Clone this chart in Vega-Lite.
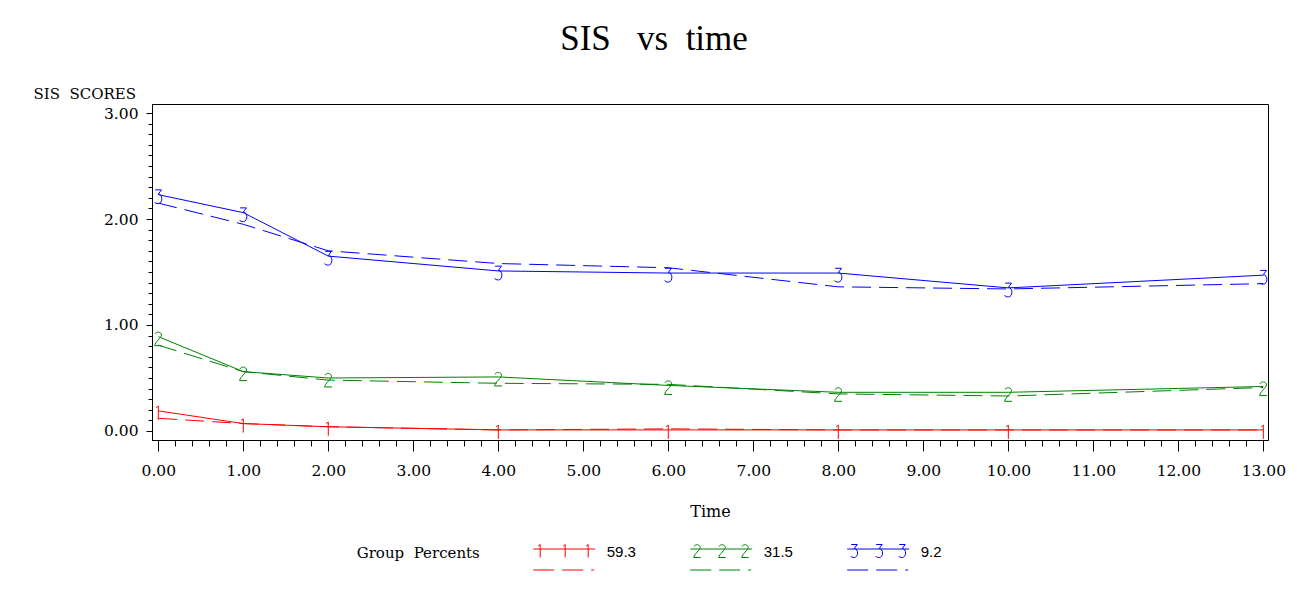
{
  "$schema": "https://vega.github.io/schema/vega-lite/v6.json",
  "width": 1116,
  "height": 336,
  "autosize": {"type": "none"},
  "padding": {"left": 152, "top": 104, "right": 35, "bottom": 149},
  "background": "white",
  "title": {"text": "SIS\u00a0\u00a0\u00a0vs\u00a0\u00a0time", "font": "Liberation Serif", "fontSize": 35, "fontWeight": "normal", "color": "black", "anchor": "middle", "frame": "group", "dx": -56, "offset": 29},
  "data": {"values": [
    {"t": 0, "g": "59.3", "obs": 0.19, "pred": 0.12},
    {"t": 1, "g": "59.3", "obs": 0.07, "pred": 0.07},
    {"t": 2, "g": "59.3", "obs": 0.04, "pred": 0.04},
    {"t": 4, "g": "59.3", "obs": 0.01, "pred": 0.01},
    {"t": 6, "g": "59.3", "obs": 0.01, "pred": 0.02},
    {"t": 8, "g": "59.3", "obs": 0.01, "pred": 0.01},
    {"t": 10, "g": "59.3", "obs": 0.01, "pred": 0.01},
    {"t": 13, "g": "59.3", "obs": 0.01, "pred": 0.01},
    {"t": 0, "g": "31.5", "obs": 0.89, "pred": 0.81},
    {"t": 1, "g": "31.5", "obs": 0.56, "pred": 0.56},
    {"t": 2, "g": "31.5", "obs": 0.50, "pred": 0.48},
    {"t": 4, "g": "31.5", "obs": 0.51, "pred": 0.45},
    {"t": 6, "g": "31.5", "obs": 0.43, "pred": 0.44},
    {"t": 8, "g": "31.5", "obs": 0.365, "pred": 0.35},
    {"t": 10, "g": "31.5", "obs": 0.365, "pred": 0.33},
    {"t": 13, "g": "31.5", "obs": 0.42, "pred": 0.41},
    {"t": 0, "g": "9.2", "obs": 2.23, "pred": 2.15},
    {"t": 1, "g": "9.2", "obs": 2.06, "pred": 1.95},
    {"t": 2, "g": "9.2", "obs": 1.65, "pred": 1.70},
    {"t": 4, "g": "9.2", "obs": 1.51, "pred": 1.58},
    {"t": 6, "g": "9.2", "obs": 1.49, "pred": 1.54},
    {"t": 8, "g": "9.2", "obs": 1.49, "pred": 1.36},
    {"t": 10, "g": "9.2", "obs": 1.35, "pred": 1.34},
    {"t": 13, "g": "9.2", "obs": 1.47, "pred": 1.39}
  ]},
  "encoding": {
    "x": {"field": "t", "type": "quantitative",
      "scale": {"domain": [-0.074, 13.055], "nice": false, "zero": false},
      "axis": {
        "title": "Time",
        "values": [0,0.2,0.4,0.6,0.8,1,1.2,1.4,1.6,1.8,2,2.2,2.4,2.6,2.8,3,3.2,3.4,3.6,3.8,4,4.2,4.4,4.6,4.8,5,5.2,5.4,5.6,5.8,6,6.2,6.4,6.6,6.8,7,7.2,7.4,7.6,7.8,8,8.2,8.4,8.6,8.8,9,9.2,9.4,9.6,9.8,10,10.2,10.4,10.6,10.8,11,11.2,11.4,11.6,11.8,12,12.2,12.4,12.6,12.8,13],
        "tickCount": 200,
        "labelExpr": "abs(datum.value - round(datum.value)) < 0.001 ? format(datum.value, '.2f') : ''",
        "tickSize": {"condition": {"test": "abs(datum.value - round(datum.value)) < 0.001", "value": 11}, "value": 6},
        "labelPadding": 12,
        "labelFont": "DejaVu Serif", "labelFontSize": 15.5,
        "labelOverlap": false, "labelBound": false, "labelFlush": false,
        "titleFont": "DejaVu Serif", "titleFontSize": 16, "titleFontWeight": "normal",
        "titlePadding": 25
      }
    },
    "y": {"field": "obs", "type": "quantitative",
      "scale": {"domain": [-0.085, 3.085], "nice": false, "zero": false},
      "axis": {
        "title": "SIS\u00a0\u00a0SCORES",
        "values": [0,0.1,0.2,0.3,0.4,0.5,0.6,0.7,0.8,0.9,1,1.1,1.2,1.3,1.4,1.5,1.6,1.7,1.8,1.9,2,2.1,2.2,2.3,2.4,2.5,2.6,2.7,2.8,2.9,3],
        "tickCount": 200,
        "labelExpr": "abs(datum.value - round(datum.value)) < 0.001 ? format(datum.value, '.2f') : ''",
        "tickSize": {"condition": {"test": "abs(datum.value - round(datum.value)) < 0.001", "value": 6}, "value": 4},
        "labelPadding": 8,
        "labelFont": "DejaVu Serif", "labelFontSize": 15.5,
        "labelOverlap": false, "labelBound": false, "labelFlush": false,
        "titleFont": "DejaVu Serif", "titleFontSize": 15, "titleFontWeight": "normal",
        "titleAngle": 0, "titleAlign": "left", "titleBaseline": "alphabetic",
        "titleX": -119, "titleY": -6
      }
    }
  },
  "layer": [
    {
      "mark": {"type": "line", "strokeWidth": 1},
      "encoding": {
        "stroke": {"field": "g", "type": "nominal",
          "scale": {"domain": ["9.2", "31.5", "59.3"], "range": ["#0000FF", "#008000", "#FF0000"]},
          "legend": null}
      }
    },
    {
      "mark": {"type": "line", "strokeWidth": 1, "strokeDash": [19, 8]},
      "encoding": {
        "y": {"field": "pred", "type": "quantitative"},
        "stroke": {"field": "g", "type": "nominal", "legend": null}
      }
    },
    {
      "transform": [{"filter": "datum.g === '59.3'"}],
      "mark": {"type": "point", "filled": false, "strokeWidth": 1, "size": 450, "opacity": 1, "shape": "M-0.2,-0.3L0,-0.45L0,0.85"},
      "encoding": {"stroke": {"field": "g", "type": "nominal", "legend": null}}
    },
    {
      "transform": [{"filter": "datum.g === '31.5'"}],
      "mark": {"type": "point", "filled": false, "strokeWidth": 1, "size": 450, "opacity": 1, "shape": "M-0.3,-0.25C-0.25,-0.5 0.3,-0.5 0.3,-0.15C0.3,0.1 -0.3,0.5 -0.35,0.85L0.35,0.85"},
      "encoding": {"stroke": {"field": "g", "type": "nominal", "legend": null}}
    },
    {
      "transform": [{"filter": "datum.g === '9.2'"}],
      "mark": {"type": "point", "filled": false, "strokeWidth": 1, "size": 450, "opacity": 1, "shape": "M-0.3,-0.45L0.3,-0.45L0,-0.05C0.45,-0.05 0.45,0.85 0,0.85C-0.15,0.85 -0.3,0.8 -0.35,0.7"},
      "encoding": {"stroke": {"field": "g", "type": "nominal", "legend": null}}
    },
    {
      "mark": {"type": "point", "filled": false, "strokeWidth": 1, "opacity": 0},
      "encoding": {
        "color": {"field": "g", "type": "nominal",
          "scale": {"domain": ["59.3", "31.5", "9.2"], "range": ["#FF0000", "#008000", "#0000FF"]},
          "legend": {
            "orient": "none", "legendX": 204.7, "legendY": 442,
            "direction": "horizontal",
            "title": "Group\u00a0\u00a0Percents",
            "titleOrient": "left", "titleAnchor": "start", "titleBaseline": "top",
            "titleFont": "DejaVu Serif", "titleFontSize": 15, "titleFontWeight": "normal", "titleColor": "black",
            "titlePadding": 52,
            "labelFont": "Liberation Sans", "labelFontSize": 15, "labelColor": "black",
            "labelOffset": 53, "labelBaseline": "alphabetic",
            "columnPadding": 51,
            "symbolSize": 400, "symbolStrokeWidth": 1, "symbolOpacity": 1,
            "padding": 0
          }
        },
        "shape": {"field": "g", "type": "nominal",
          "scale": {"domain": ["59.3", "31.5", "9.2"], "range": [
            "M-1,-0.75H5.2M-1,1.35H1.1M1.9,1.35H4M4.8,1.35H5.1M-0.5,-1.05L-0.3,-1.2L-0.3,0.1M2,-1.05L2.2,-1.2L2.2,0.1M4.3,-1.05L4.5,-1.2L4.5,0.1",
            "M-1,-0.75H5.2M-1,1.35H1.1M1.9,1.35H4M4.8,1.35H5.1M-0.6,-1C-0.55,-1.25 0,-1.25 0,-0.9C0,-0.65 -0.6,-0.25 -0.65,0.1L0.05,0.1M1.9,-1C1.95,-1.25 2.5,-1.25 2.5,-0.9C2.5,-0.65 1.9,-0.25 1.85,0.1L2.55,0.1M4.2,-1C4.25,-1.25 4.8,-1.25 4.8,-0.9C4.8,-0.65 4.2,-0.25 4.15,0.1L4.85,0.1",
            "M-1,-0.75H5.2M-1,1.35H1.1M1.9,1.35H4M4.8,1.35H5.1M-0.6,-1.2L0,-1.2L-0.3,-0.8C0.15,-0.8 0.15,0.1 -0.3,0.1C-0.45,0.1 -0.6,0.05 -0.65,-0.05M1.9,-1.2L2.5,-1.2L2.2,-0.8C2.65,-0.8 2.65,0.1 2.2,0.1C2.05,0.1 1.9,0.05 1.85,-0.05M4.2,-1.2L4.8,-1.2L4.5,-0.8C4.95,-0.8 4.95,0.1 4.5,0.1C4.35,0.1 4.2,0.05 4.15,-0.05"
          ]},
          "legend": {
            "orient": "none", "legendX": 204.7, "legendY": 442,
            "direction": "horizontal",
            "title": "Group\u00a0\u00a0Percents",
            "titleOrient": "left", "titleAnchor": "start", "titleBaseline": "top",
            "titleFont": "DejaVu Serif", "titleFontSize": 15, "titleFontWeight": "normal", "titleColor": "black",
            "titlePadding": 52,
            "labelFont": "Liberation Sans", "labelFontSize": 15, "labelColor": "black",
            "labelOffset": 53, "labelBaseline": "alphabetic",
            "columnPadding": 51,
            "symbolSize": 400, "symbolStrokeWidth": 1, "symbolOpacity": 1,
            "padding": 0
          }
        }
      }
    }
  ],
  "config": {
    "view": {"stroke": "black", "strokeWidth": 1},
    "axis": {"domainColor": "black", "tickColor": "black", "labelColor": "black", "titleColor": "black", "grid": false, "domainWidth": 1, "tickWidth": 1}
  }
}
